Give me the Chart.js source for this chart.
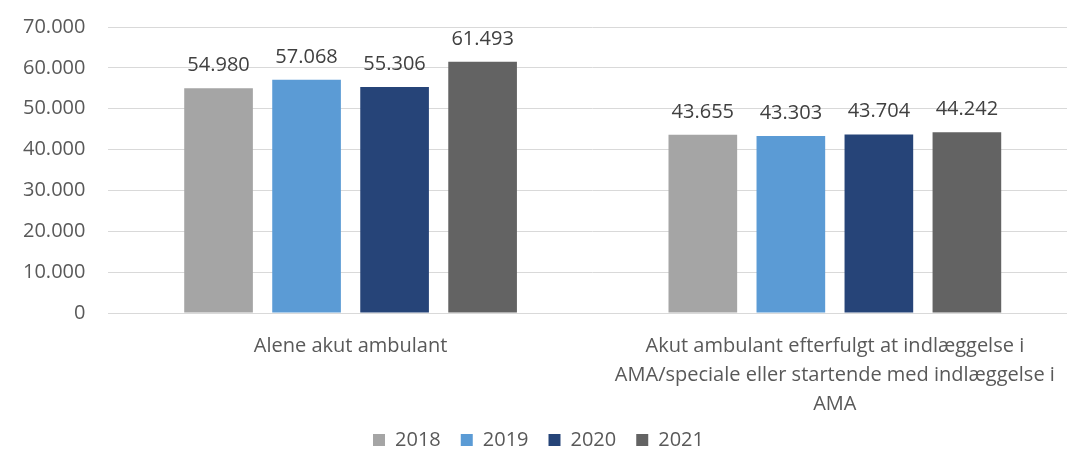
<!DOCTYPE html>
<html>
<head>
<meta charset="utf-8">
<script src="https://cdn.jsdelivr.net/npm/chart.js@4"></script>
<style>
  html, body { margin: 0; padding: 0; background: #fff; overflow: hidden; }
  #wrap { width: 1077px; height: 450px; }
</style>
</head>
<body>
<div id="wrap"><canvas id="c"></canvas></div>
<script>
// data
const categories = [
  'Alene akut ambulant',
  ['Akut ambulant efterfulgt at indlæggelse i', 'AMA/speciale eller startende med indlæggelse i', 'AMA']
];
const years = ['2018', '2019', '2020', '2021'];
const values2018 = [54980, 43655];
const values2019 = [57068, 43303];
const values2020 = [55306, 43704];
const values2021 = [61493, 44242];
const yTicks = [0, 10000, 20000, 30000, 40000, 50000, 60000, 70000];

const colors = ['#a5a5a5', '#5b9bd5', '#264478', '#636363'];
const fmt = v => String(v).replace(/\B(?=(\d{3})+(?!\d))/g, '.');
const FONT = "'Open Sans', 'Noto Sans', sans-serif";

Chart.defaults.font.family = FONT;
Chart.defaults.color = '#595959';

// draw value labels above each bar
const valueLabels = {
  id: 'valueLabels',
  afterDatasetsDraw(chart) {
    const ctx = chart.ctx;
    ctx.save();
    ctx.font = '20px ' + FONT;
    ctx.fillStyle = '#404040';
    ctx.textAlign = 'center';
    ctx.textBaseline = 'alphabetic';
    chart.data.datasets.forEach((ds, i) => {
      chart.getDatasetMeta(i).data.forEach((bar, j) => {
        ctx.fillText(fmt(ds.data[j]), bar.x, bar.y - 17);
      });
    });
    ctx.restore();
  }
};

const series = [values2018, values2019, values2020, values2021];

new Chart(document.getElementById('c'), {
  type: 'bar',
  data: {
    labels: categories,
    datasets: series.map((d, i) => ({
      label: years[i],
      data: d,
      backgroundColor: colors[i],
      borderWidth: 0,
      barPercentage: 0.78,
      categoryPercentage: 0.727,
    })),
  },
  options: {
    responsive: true,
    maintainAspectRatio: false,
    animation: false,
    layout: { padding: { left: 0, right: 0, top: 27, bottom: -10 } },
    scales: {
      y: {
        min: 0, max: 70000,
        afterBuildTicks: axis => { axis.ticks = yTicks.map(v => ({ value: v })); },
        afterFit: s => { s.paddingTop = 0; },
        grid: { color: '#d9d9d9', drawTicks: false },
        border: { display: false },
        ticks: {
          padding: 23,
          font: { size: 20 },
          color: '#595959',
          callback: v => fmt(v),
        },
      },
      x: {
        grid: { display: false },
        border: { color: '#d9d9d9' },
        afterFit: s => { s.height -= 20; },
        ticks: {
          font: { size: 20, lineHeight: 1.45 },
          color: '#595959',
          padding: 11,
          maxRotation: 0,
        },
      },
    },
    plugins: {
      legend: {
        position: 'bottom',
        labels: {
          boxWidth: 12,
          boxHeight: 12,
          padding: 20,
          font: { size: 20 },
          color: '#595959',
        },
      },
      tooltip: { enabled: false },
    },
  },
  plugins: [valueLabels],
});
</script>
</body>
</html>
